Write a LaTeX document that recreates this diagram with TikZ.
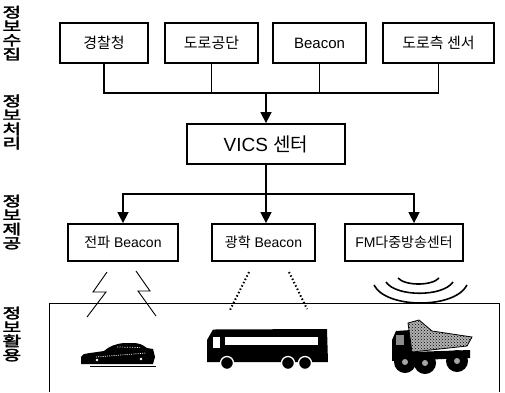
\documentclass[tikz,border=0pt]{standalone}
\usepackage{fontspec}
\setmainfont{Liberation Sans}
\newfontfamily\kr{Noto Sans CJK KR}
\newfontfamily\krb[FakeBold=2.5]{Noto Sans CJK KR}
\usetikzlibrary{arrows.meta,patterns}

\tikzset{
  box/.style={draw, line width=1.8pt, inner sep=0pt, minimum height=40pt,
              font=\fontsize{15}{15}\selectfont},
  lowbox/.style={box, minimum height=37pt, font=\fontsize{14}{14}\selectfont},
  conn/.style={line width=1.5pt},
  arr/.style={conn, -{Triangle[width=11pt,length=11pt]}},
  % wide, bold stage captions (the x position is divided by the stretch)
  stage/.style={inner sep=0pt, align=center, xscale=1.45, transform shape,
                font=\krb\fontsize{14}{14}\selectfont},
  bolt/.style={line width=0.9pt, line join=miter},
  beam/.style={line width=2pt, dash pattern=on 1.5pt off 2.2pt},
  wave/.style={line width=1.6pt},
  frame/.style={line width=1pt}
}

\begin{document}
\begin{tikzpicture}[x=1pt, y=-1pt]
\useasboundingbox (0,0) rectangle (505,392);

% stage labels, one character per line
\node[stage] (s1) at (11.9,33)  {정\\보\\수\\집};
\node[stage] (s2) at (11.9,122) {정\\보\\처\\리};
\node[stage] (s3) at (11.9,222) {정\\보\\제\\공};
\node[stage] (s4) at (11.9,334) {정\\보\\활\\용};

% information sources
\node[box, minimum width=88pt]  (police) at (104,43)   {\kr 경찰청};
\node[box, minimum width=93pt]  (road)   at (211.5,43) {\kr 도로공단};
\node[box, minimum width=93pt]  (beacon) at (319.5,43) {Beacon};
\node[box, minimum width=111pt] (sensor) at (438.5,43) {\kr 도로측 센서};

% processing centre
\node[box, minimum width=158pt, font=\fontsize{19}{19}\selectfont]
  (vics) at (266,144) {VICS {\kr 센터}};

% distribution
\node[lowbox, minimum width=110pt] (radio)   at (123,242.5)   {{\kr 전파} Beacon};
\node[lowbox, minimum width=103pt] (optical) at (263.5,242.5) {{\kr 광학} Beacon};
\node[lowbox, minimum width=118pt] (fm)      at (404,242.5)   {FM{\kr 다중방송센터}};

% collecting bus
\coordinate (join)  at (266,93);
\coordinate (split) at (266,194);
\coordinate (busL) at (104,93);
\coordinate (busR) at (438.5,93);
\draw[conn] (police.south) -- (busL) -- (busR) -- (sensor.south);
\draw[conn] (road.south) -- (road.south |- join);
\draw[conn] (beacon.south) -- (beacon.south |- join);
\draw[arr] (join) -- (vics.north);

% fan-out to the distribution channels
\coordinate (fmin) at ([xshift=10pt]fm.north);
\draw[conn] (vics.south) -- (split);
\draw[arr] (split) -| (radio.north);
\draw[arr] (split) -- (optical.north -| split);
\draw[arr] (split) -| (fmin);

% road frame
\coordinate (f1) at (49,392);
\coordinate (f2) at (49,303);
\coordinate (f3) at (499,303);
\coordinate (f4) at (499,392);
\draw[frame] (f1) -- (f2) -- (f3) -- (f4);

% radio beacon: lightning bolts
\draw[bolt] (107,272) -- (93,292) -- (106,292) -- (87,317);
\draw[bolt] (136,271) -- (150,291) -- (138,291) -- (156,316);

% optical beacon: dotted beams
\draw[beam] (249,272) -- (230,310);
\draw[beam] (289,272) -- (307,309);

% FM broadcast: waves
\draw[wave] (398,278) .. controls (405,286) and (432,286) .. (439,278);
\draw[wave] (386,282) .. controls (396,297) and (443,297) .. (453,282);
\draw[wave] (374,285) .. controls (386,309) and (455,309) .. (467,285);

% car
\fill (81,363) -- (81,357) .. controls (83,354) .. (90,353) -- (104,351)
  .. controls (110,346) and (115,344) .. (124,343) -- (135,343)
  .. controls (141,344) .. (147,348) -- (153,349) -- (155,357)
  -- (153,364) -- (81,364) -- cycle;
\draw[white, line width=0.7pt, dash pattern=on 1pt off 1.2pt] (96,357) -- (146,353);
\draw[white, line width=0.7pt, dash pattern=on 1pt off 1.5pt] (117,347) -- (140,347.5);
\fill[white] (97,360) circle (1.3pt) (141,359) circle (1.3pt);
\draw[line width=0.8pt] (90,366.5) -- (156,366.5);

% bus
\fill (207,362) -- (207,340) -- (213,329.5) -- (327,329) -- (328,362) -- cycle;
\fill[white] (225,337) rectangle (318,345);
\fill[white] (213,337) rectangle (220,348);
\foreach \wx in {227,288,305}
  \filldraw[draw=white, line width=1.3pt] (\wx,363) circle (6.5pt);

% dump truck
\fill (392,340) -- (396,331) -- (411,330) -- (412,352) -- (470,350)
  -- (470,358) -- (392,361) -- cycle;
\fill[black!45] (396,335) rectangle (404,345);
\filldraw[line width=0.8pt, fill=black!30] (408,323) -- (419,320) -- (432,331)
  -- (472,337) -- (467,346) -- (412,352) -- cycle;
\fill[pattern=crosshatch dots, pattern color=black]
  (408,323) -- (419,320) -- (432,331) -- (472,337) -- (467,346)
  -- (412,352) -- cycle;
\foreach \wx/\wy in {405/362,425/363,457/361} {
  \fill (\wx,\wy) circle (11pt);
  \fill[black!35] (\wx,\wy) circle (3pt);
}
\end{tikzpicture}
\end{document}
